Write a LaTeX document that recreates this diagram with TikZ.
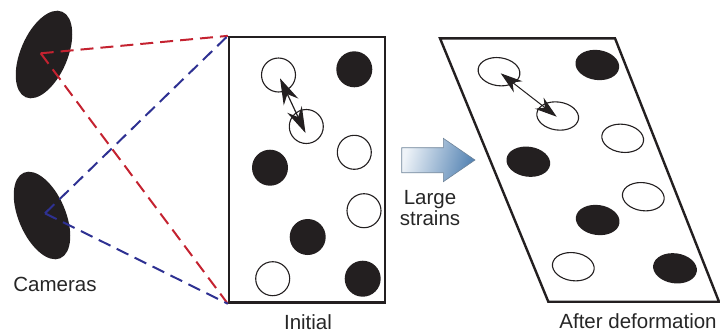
\documentclass[tikz,border=0pt]{standalone}
\usepackage{fontspec}
\setmainfont{Liberation Sans}
\usetikzlibrary{shapes.geometric,arrows.meta}
\definecolor{cred}{HTML}{C42230}
\definecolor{cblue}{HTML}{2E3192}
\definecolor{alight}{HTML}{EEF3F8}
\definecolor{adark}{HTML}{5483B3}
\definecolor{aedge}{HTML}{6F8499}
\definecolor{ink}{HTML}{231F20}
\tikzset{
  cam/.style={ellipse, fill=ink, inner sep=0pt, outer sep=0pt, minimum width=93pt, minimum height=47pt},
  ray/.style={line width=2pt, dash pattern=on 13pt off 7pt},
  opendot/.style={circle, draw=ink, line width=1.1pt, fill=white, inner sep=0pt, minimum size=34pt},
  fulldot/.style={circle, fill=ink, inner sep=0pt, minimum size=36pt},
  openell/.style={ellipse, draw=ink, line width=1.1pt, fill=white, inner sep=0pt, minimum width=42pt, minimum height=28pt, rotate=-8},
  fullell/.style={ellipse, fill=ink, inner sep=0pt, minimum width=44pt, minimum height=30pt, rotate=-8},
  lbl/.style={font=\fontsize{20.5}{21}\selectfont, text=black!85, inner sep=0pt},
  frame/.style={draw=ink, line width=2.4pt, inner sep=0pt},
}
\begin{document}
\begin{tikzpicture}[x=1pt,y=-1pt]
\useasboundingbox (0,0) rectangle (720,333);
% cameras
\node[cam, rotate=67] (cam1) at (44,54.5) {};
\node[cam, rotate=-67] (cam2) at (42,215.5) {};
\coordinate (e1) at (40.7,53.3);
\coordinate (e2) at (45,213.3);
% initial frame
\node[frame, minimum width=156pt, minimum height=265.5pt] (init) at (307,169.8) {};
% rays
\draw[ray, cred] (e1) -- (init.north west);
\draw[ray, cred] (e1) -- (init.south west);
\draw[ray, cblue] (e2) -- (init.north west);
\draw[ray, cblue] (e2) -- (init.south west);
% dots initial
\node[opendot] (o1) at (278.5,75) {};
\node[fulldot] (f1) at (354.3,69.3) {};
\node[opendot] (o2) at (306.3,126.5) {};
\node[opendot] (o3) at (354.3,152.3) {};
\node[fulldot] (f2) at (270,167.7) {};
\node[opendot] (o4) at (364,210.7) {};
\node[fulldot] (f3) at (307.7,237) {};
\node[opendot] (o5) at (272.7,278.7) {};
\node[fulldot] (f4) at (362.7,278.7) {};
\coordinate (ia) at (280,78.3);
\coordinate (ib) at (305.5,133);
\draw[ink, line width=1.2pt, {Stealth[length=26pt,width=16pt]}-{Stealth[length=26pt,width=16pt]}] (ia) -- (ib);
% block arrow
\coordinate (b1) at (401.7,147.7);
\coordinate (b2) at (443.3,147.7);
\coordinate (b3) at (443.3,138.3);
\coordinate (b4) at (475,160);
\coordinate (b5) at (443.3,181.7);
\coordinate (b6) at (443.3,172.7);
\coordinate (b7) at (401.7,172.7);
\draw[aedge, line width=0.6pt, shading=axis, left color=alight, right color=adark, shading angle=75]
  (b1) -- (b2) -- (b3) -- (b4) -- (b5) -- (b6) -- (b7) -- cycle;
\node[lbl, align=center, anchor=base] (ls) at (430,225) {Large\\strains};
% deformed frame
\coordinate (p1) at (440,38.3);
\coordinate (p2) at (615,38.3);
\coordinate (p3) at (719,301.7);
\coordinate (p4) at (548.3,301.7);
\draw[ink, line width=2.4pt, line join=miter] (p1) -- (p2) -- (p3) -- (p4) -- cycle;
\node[openell] (d1) at (499,71.7) {};
\node[fullell] (d2) at (597.3,65) {};
\node[openell] (d3) at (557.7,116) {};
\node[openell] (d4) at (622.7,138.3) {};
\node[fullell] (d5) at (528.3,161.7) {};
\node[openell] (d6) at (643.3,196.7) {};
\node[fullell] (d7) at (597.7,220) {};
\node[openell] (d8) at (573.3,266.7) {};
\node[fullell] (d9) at (675,268.3) {};
\coordinate (da) at (500.7,73.3);
\coordinate (db) at (556.7,116.7);
\draw[ink, line width=1pt, {Stealth[length=22pt,width=14pt]}-{Stealth[length=22pt,width=14pt]}] (da) -- (db);
% labels
\node[lbl, anchor=base] (tc) at (55,291.7) {Cameras};
\node[lbl, anchor=base] (ti) at (308,329) {Initial};
\node[lbl, anchor=base] (ta) at (638,328.3) {After deformation};
\end{tikzpicture}
\end{document}
